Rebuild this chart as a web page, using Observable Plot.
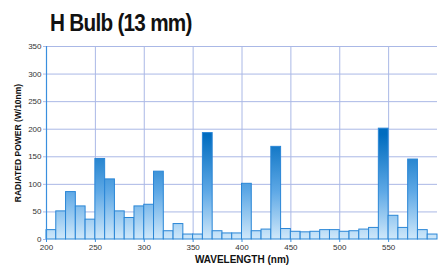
<!DOCTYPE html>
<html>
<head>
<meta charset="utf-8">
<script src="https://cdn.jsdelivr.net/npm/d3@7"></script>
<script src="https://cdn.jsdelivr.net/npm/@observablehq/plot@0.6"></script>
<style>
  html, body { margin: 0; padding: 0; background: #fff; }
  #wrap { width: 438px; height: 266px; position: relative; overflow: hidden; }
  #title { position: absolute; left: 50px; top: 9px; font-family: "Liberation Sans", Arial, sans-serif; font-weight: bold; font-size: 23px; letter-spacing: -0.8px; color: #111; white-space: nowrap; line-height: 28px; transform: scaleX(0.9); transform-origin: left center; }
  #chart { position: absolute; left: 0; top: 36px; }
</style>
</head>
<body>
<div id="wrap">
  <div id="chart"></div>
  <div id="title">H Bulb (13 mm)</div>
</div>
<script>
const binStart = [200,210,220,230,240,250,260,270,280,290,300,310,320,330,340,350,360,370,380,390,400,410,420,430,440,450,460,470,480,490,500,510,520,530,540,550,560,570,580,590];
const power = [17,51,86,60,36,146,109,51,39,60,63,123,15,28,9,9,193,15,11,11,101,15,18,168,19,14,13,14,17,17,14,15,18,21,201,43,21,145,17,9];
const xTicks = [200,250,300,350,400,450,500,550];
const yTicks = [0,50,100,150,200,250,300,350];
const yLabel = "RADIATED POWER (W/10nm)";
const xLabel = "WAVELENGTH (nm)";

const data = binStart.map((s, i) => ({x1: s, x2: s + 10, y: power[i]}));
const gridColor = "#aab8e6";
const axisColor = "#3a8fde";

const chart = Plot.plot({
  width: 438,
  height: 230,
  marginTop: 10,
  marginLeft: 46,
  marginRight: 1,
  marginBottom: 27,
  style: {fontFamily: "'Liberation Sans', Arial, sans-serif", fontSize: "8px", color: "#333", background: "#fff"},
  x: {domain: [200, 600]},
  y: {domain: [0, 350]},
  marks: [
    Plot.gridX(xTicks.slice(1), {stroke: gridColor, strokeOpacity: 1, strokeWidth: 1}),
    Plot.gridY(yTicks.slice(1), {stroke: gridColor, strokeOpacity: 1, strokeWidth: 1}),
    Plot.rectY(data, {x1: "x1", x2: "x2", y: "y", fill: "url(#barGrad)", stroke: "#2a86d6", strokeWidth: 1, inset: 0}),
    Plot.ruleX([200], {stroke: axisColor, strokeWidth: 1.2}),
    Plot.axisX({ticks: xTicks, tickSize: 3, tickPadding: 2, stroke: axisColor, label: null, fill: "#333"}),
    Plot.axisY({ticks: yTicks, tickSize: 3, tickPadding: 2, stroke: gridColor, label: null, fill: "#333"}),
    Plot.text([yLabel], {frameAnchor: "left", dx: -28, rotate: -90, textAnchor: "middle", lineAnchor: "middle", fontWeight: "bold", fontSize: 8.5, fill: "#111"}),
    Plot.text([xLabel], {frameAnchor: "bottom", dy: 20, textAnchor: "middle", lineAnchor: "middle", fontWeight: "bold", fontSize: 10, fill: "#111"})
  ]
});

const ys = chart.scale("y");
const svg = d3.select(chart.tagName === "svg" ? chart : chart.querySelector("svg"));
const defs = svg.insert("defs", ":first-child");
const g = defs.append("linearGradient")
  .attr("id", "barGrad")
  .attr("gradientUnits", "userSpaceOnUse")
  .attr("x1", 0).attr("x2", 0)
  .attr("y1", ys.apply(190)).attr("y2", ys.apply(0));
g.append("stop").attr("offset", 0).attr("stop-color", "#006cbf");
g.append("stop").attr("offset", 0.55).attr("stop-color", "#5fa9e6");
g.append("stop").attr("offset", 1).attr("stop-color", "#cfe8fa");

document.getElementById("chart").appendChild(chart);
</script>
</body>
</html>
